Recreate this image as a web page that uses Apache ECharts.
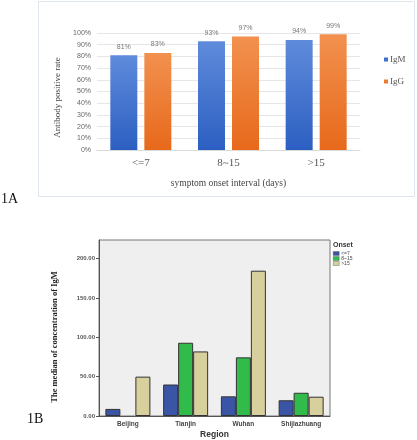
<!DOCTYPE html>
<html><head><meta charset="utf-8">
<script src="https://cdn.jsdelivr.net/npm/echarts@6/dist/echarts.min.js"></script>
<style>html,body{margin:0;padding:0;background:#fff}#c{width:417px;height:440px}</style>
</head><body><div id="c"></div>
<script>
// Panel 1A
const intervals = ['<=7', '8~15', '>15'];
const igmRate = [81, 93, 94];
const iggRate = [83, 97, 99];
const rateTicks = [0, 10, 20, 30, 40, 50, 60, 70, 80, 90, 100];
// Panel 1B
const regions = ['Beijing', 'Tianjin', 'Wuhan', 'Shijiazhuang'];
const onsetLe7 = [9, 40, 25, 20];
const onset8to15 = [null, 93, 74.5, 29.5];
const onsetGt15 = [50, 82, 184.5, 24.5];
const concTicks = [0, 50, 100, 150, 200];

const chart = echarts.init(document.getElementById('c'));
const grad = (a, b) => new echarts.graphic.LinearGradient(0, 0, 0, 1, [{offset: 0, color: a}, {offset: 1, color: b}]);
const serif = '"Liberation Serif","DejaVu Serif",serif';
const sans = '"Liberation Sans","DejaVu Sans",sans-serif';

const pctLabel = {show: true, position: 'top', distance: 5, fontSize: 7, color: '#777', fontFamily: sans, formatter: p => p.value + '%'};
const spssBar = {borderColor: '#333', borderWidth: 1};

chart.setOption({
  animation: false,
  backgroundColor: '#fff',
  grid: [
    {left: 97, top: 33, width: 263, height: 117},
    {left: 99, top: 240, width: 231, height: 179, show: true, backgroundColor: '#efefef', borderColor: '#777', borderWidth: 1}
  ],
  xAxis: [
    {gridIndex: 0, type: 'category', data: intervals,
     axisLine: {lineStyle: {color: '#d9d9d9'}}, axisTick: {show: false},
     axisLabel: {fontFamily: serif, fontSize: 11, color: '#555', margin: 8},
     name: 'symptom onset interval (days)', nameLocation: 'middle', nameGap: 28,
     nameTextStyle: {fontFamily: serif, fontSize: 9.5, color: '#444'}},
    {gridIndex: 1, type: 'category', data: regions,
     axisLine: {lineStyle: {color: '#555'}}, axisTick: {alignWithLabel: true, length: 3, lineStyle: {color: '#555'}},
     axisLabel: {fontFamily: sans, fontSize: 6.5, fontWeight: 'bold', color: '#444', margin: 5},
     name: 'Region', nameLocation: 'middle', nameGap: 14,
     nameTextStyle: {fontFamily: sans, fontSize: 8.5, fontWeight: 'bold', color: '#333'}}
  ],
  yAxis: [
    {gridIndex: 0, type: 'value', min: rateTicks[0], max: rateTicks[rateTicks.length - 1], interval: 10,
     axisLine: {show: false}, axisTick: {show: false},
     splitLine: {lineStyle: {color: '#e6e6e6'}},
     axisLabel: {fontFamily: sans, fontSize: 7, color: '#666', formatter: v => v + '%', margin: 6},
     name: 'Antibody positive rate', nameLocation: 'middle', nameGap: 29,
     nameTextStyle: {fontFamily: serif, fontSize: 9, color: '#444', padding: [0, 12, 0, 0]}},
    {gridIndex: 1, type: 'value', min: concTicks[0], max: 223.5, interval: 50,
     axisLine: {show: true, lineStyle: {color: '#555'}}, axisTick: {show: true, length: 3, lineStyle: {color: '#555'}},
     splitLine: {show: false},
     axisLabel: {fontFamily: sans, fontSize: 6, fontWeight: 'bold', color: '#555', formatter: v => v.toFixed(2), margin: 4,
       showMaxLabel: false},
     name: 'The median of concentration of IgM', nameLocation: 'middle', nameGap: 40,
     nameTextStyle: {fontFamily: serif, fontSize: 8.5, fontWeight: 'bold', color: '#222', padding: [0, 18, 0, 0]}}
  ],
  legend: [
    {orient: 'vertical', left: 379, top: 50, itemWidth: 4, itemHeight: 4, itemGap: 13,
     data: [{name: 'IgM', icon: 'rect', itemStyle: {color: '#3f6fd0'}}, {name: 'IgG', icon: 'rect', itemStyle: {color: '#ee7a30'}}],
     textStyle: {fontFamily: serif, fontSize: 9, color: '#555', padding: [0, 0, 0, -3]}},
    {orient: 'vertical', left: 333, top: 251, itemWidth: 6, itemHeight: 4, itemGap: 0, padding: 0,
     itemStyle: {borderWidth: 0.4, borderColor: '#555'},
     data: [{name: '<=7', icon: 'rect'}, {name: '8~15', icon: 'rect'}, {name: '>15', icon: 'rect'}],
     textStyle: {fontFamily: sans, fontSize: 5, lineHeight: 4, color: '#444', padding: [0, 0, 0, -3]}}
  ],
  graphic: [
    {type: 'rect', shape: {x: 38.5, y: 1.5, width: 376, height: 195}, style: {fill: 'none', stroke: '#dfe5ec', lineWidth: 1}, z: -1},
    {type: 'text', left: 1, top: 192, style: {text: '1A', font: '14px ' + serif, fill: '#111'}},
    {type: 'text', left: 27, top: 412, style: {text: '1B', font: '14px ' + serif, fill: '#111'}},
    {type: 'text', left: 333, top: 242, style: {text: 'Onset', font: 'bold 7px ' + sans, fill: '#333'}}
  ],
  series: [
    {name: 'IgM', type: 'bar', xAxisIndex: 0, yAxisIndex: 0, data: igmRate, barWidth: 27, barGap: '26%',
     itemStyle: {color: grad('#5f8bdb', '#2c5fc2')}, label: pctLabel},
    {name: 'IgG', type: 'bar', xAxisIndex: 0, yAxisIndex: 0, data: iggRate, barWidth: 27, barGap: '26%',
     itemStyle: {color: grad('#f2914f', '#e7691b')}, label: pctLabel},
    {name: '<=7', type: 'bar', xAxisIndex: 1, yAxisIndex: 1, data: onsetLe7, barWidth: 15, barGap: '0%',
     itemStyle: Object.assign({color: '#3b55a6'}, spssBar)},
    {name: '8~15', type: 'bar', xAxisIndex: 1, yAxisIndex: 1, data: onset8to15, barWidth: 15, barGap: '0%',
     itemStyle: Object.assign({color: '#30bb4b'}, spssBar)},
    {name: '>15', type: 'bar', xAxisIndex: 1, yAxisIndex: 1, data: onsetGt15, barWidth: 15, barGap: '0%',
     itemStyle: Object.assign({color: '#d7cf9c'}, spssBar)}
  ]
});
</script></body></html>
